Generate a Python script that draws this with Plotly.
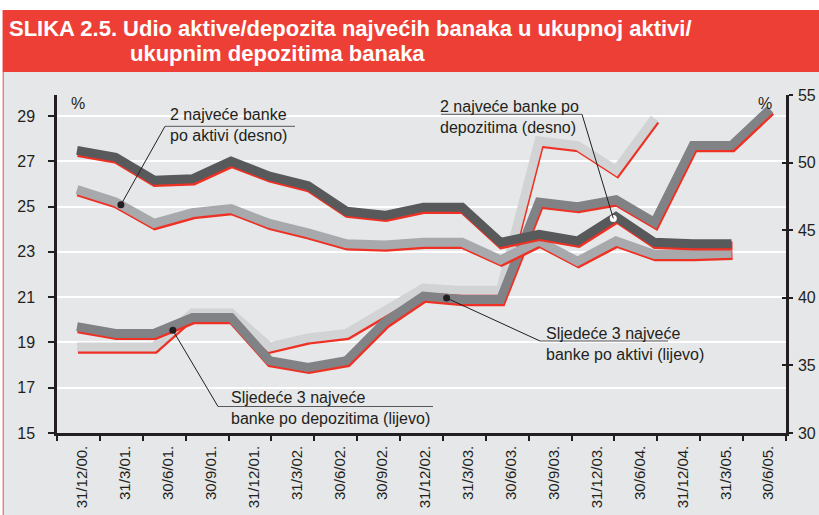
import numpy as np
import plotly.graph_objects as go

# ---------------- data ----------------
quarters = ["31/12/00", "31/3/01", "30/6/01", "30/9/01", "31/12/01", "31/3/02", "30/6/02",
            "30/9/02", "31/12/02", "31/3/03", "30/6/03", "30/9/03", "31/12/03", "31/3/04",
            "30/6/04", "30/9/04", "31/12/04", "31/3/05", "30/6/05"]
tick_labels = ["31/12/00.", "31/3/01.", "30/6/01.", "30/9/01.", "31/12/01.", "31/3/02.",
               "30/6/02.", "30/9/02.", "31/12/02.", "31/3/03.", "30/6/03.", "30/9/03.",
               "31/12/03.", "30/6/04.", "31/12/04.", "31/3/05.", "30/6/05."]

# right axis (%)
top2_assets_right = [48.0, 47.1, 45.5, 46.3, 46.6, 45.5, 44.8, 44.0, 43.9, 44.1, 44.1,
                     42.8, 44.2, 42.7, 44.2, 43.2, 43.2, 43.3]
top2_deposits_right = [50.9, 50.4, 48.7, 48.8, 50.1, 49.0, 48.3, 46.4, 46.1, 46.7, 46.7,
                       44.1, 44.7, 44.2, 46.0, 44.1, 44.0, 44.0]
# left axis (%)
next3_assets_left = [19.7, 19.4, 19.4, 20.1, 20.1, 18.2, 17.9, 18.2, 19.9, 21.05, 20.9,
                     20.9, 25.2, 25.0, 25.3, 24.3, 27.7, 27.7, 29.3]
next3_deposits_left = [18.8, 18.8, 18.8, 20.3, 20.3, 18.8, 19.2, 19.4, 20.4, 21.4, 21.3,
                       21.3, 27.9, 27.7, 26.6, 28.9]

left_ticks = [15, 17, 19, 21, 23, 25, 27, 29]
right_ticks = [30, 35, 40, 45, 50, 55]

# ---------------- layout geometry ----------------
W, H = 819, 515
L, R, T, B = 57, 33, 95, 82
PW, PH = W - L - R, H - T - B
YL = [15, 29.93]
YR = [30, 55]
X0_PX, DX_PX = 77, 38.5          # first data point position / spacing
XR = [(L - X0_PX) / DX_PX, (W - R - X0_PX) / DX_PX]

PPU_L = PH / (YL[1] - YL[0])
PPU_R = PH / (YR[1] - YR[0])


def px_x(px):
    return (px - X0_PX) / DX_PX


def px_yl(py):
    return YL[0] + (H - B - py) / PPU_L


def px_yr(py):
    return YR[0] + (H - B - py) / PPU_R


def pap_x(px):
    return (px - L) / PW


def pap_y(py):
    return (H - B - py) / PH


INK = "#231f20"
RED = "#ee3124"
BG = "#e6e7e8"
BAND_W = 9
SH_DX, SH_DY = 1.0, 2.2

fig = go.Figure()


def add_series(vals, color, yref, ppu):
    x = np.arange(len(vals), dtype=float)
    y = np.array(vals, dtype=float)
    fig.add_trace(go.Scatter(x=x + SH_DX / DX_PX, y=y - SH_DY / ppu, mode="lines",
                             line=dict(color=RED, width=BAND_W), yaxis=yref,
                             hoverinfo="skip", showlegend=False))
    fig.add_trace(go.Scatter(x=x, y=y, mode="lines",
                             line=dict(color=color, width=BAND_W), yaxis=yref,
                             hoverinfo="skip", showlegend=False))


add_series(next3_deposits_left, "#d1d3d4", "y", PPU_L)
add_series(next3_assets_left, "#808285", "y", PPU_L)
add_series(top2_assets_right, "#a7a9ac", "y2", PPU_R)
add_series(top2_deposits_right, "#58595b", "y2", PPU_R)


def dot(vals, xi, yref, color):
    yv = float(np.interp(xi, np.arange(len(vals)), vals))
    fig.add_trace(go.Scatter(x=[xi], y=[yv], mode="markers",
                             marker=dict(color=color, size=7, line=dict(width=0)),
                             yaxis=yref, hoverinfo="skip", showlegend=False))
    return yv


d1 = dot(top2_assets_right, 1.14, "y2", INK)
d2 = dot(top2_deposits_right, 13.93, "y2", "white")
d3 = dot(next3_assets_left, 9.6, "y", INK)
d4 = dot(next3_deposits_left, 2.49, "y", INK)

# invisible trace to register category labels on xaxis2
fig.add_trace(go.Scatter(x=tick_labels, y=[20] * len(tick_labels), xaxis="x2", yaxis="y",
                         mode="markers", marker=dict(opacity=0), hoverinfo="skip",
                         showlegend=False))
fig.add_trace(go.Scatter(x=[0], y=[40], xaxis="x", yaxis="y3", mode="markers",
                         marker=dict(opacity=0), hoverinfo="skip", showlegend=False))

shapes = []
# title bar + page decorations
shapes.append(dict(type="rect", xref="paper", yref="paper", x0=pap_x(0), x1=pap_x(W),
                   y0=pap_y(10), y1=pap_y(0), fillcolor="white", line=dict(width=0),
                   layer="below"))
shapes.append(dict(type="rect", xref="paper", yref="paper", x0=pap_x(0), x1=pap_x(2.6),
                   y0=pap_y(H), y1=pap_y(0), fillcolor="white", line=dict(width=0),
                   layer="below"))
shapes.append(dict(type="rect", xref="paper", yref="paper", x0=pap_x(2.6), x1=pap_x(W),
                   y0=pap_y(72), y1=pap_y(10), fillcolor="#ee3f37", line=dict(width=0),
                   layer="below"))
shapes.append(dict(type="line", xref="paper", yref="paper", x0=pap_x(3.3), x1=pap_x(3.3),
                   y0=pap_y(H), y1=pap_y(72), line=dict(color="#f07f78", width=1.4),
                   layer="below"))


def leader(x0, y0, x1, y1, yref):
    shapes.append(dict(type="line", xref="x", yref=yref, x0=x0, y0=y0, x1=x1, y1=y1,
                       line=dict(color=INK, width=1), layer="above"))


def underline(px0, px1, py):
    shapes.append(dict(type="line", xref="x", yref="y", x0=px_x(px0), x1=px_x(px1),
                       y0=px_yl(py), y1=px_yl(py), line=dict(color="#58595b", width=1),
                       layer="above"))


# label 1: 2 najveće banke po aktivi (desno)
underline(165, 295, 126.3)
leader(px_x(165), px_yr(126.3), 1.14, d1, "y2")
# label 2: 2 najveće banke po depozitima (desno)
underline(441, 582, 114.3)
leader(px_x(582), px_yr(114.3), 13.93, d2, "y2")
# label 3: Sljedeće 3 najveće banke po aktivi (lijevo)
underline(540, 668, 341)
leader(px_x(540), px_yl(341), 9.6, d3, "y")
# label 4: Sljedeće 3 najveće banke po depozitima (lijevo)
underline(218, 433, 406.5)
leader(px_x(218), px_yl(406.5), 2.49, d4, "y")

FONT = "Liberation Sans, Arial, sans-serif"
annotations = []


def label(text, px, py):
    annotations.append(dict(text=text, xref="x", yref="y", x=px_x(px), y=px_yl(py),
                            xanchor="left", yanchor="middle", align="left",
                            showarrow=False, font=dict(family=FONT, size=16, color=INK)))


label("2 najveće banke<br>po aktivi (desno)", 168, 125)
label("2 najveće banke po<br>depozitima (desno)", 438, 116.5)
label("Sljedeće 3 najveće<br>banke po aktivi (lijevo)", 544, 343.5)
label("Sljedeće 3 najveće<br>banke po depozitima (lijevo)", 229, 407.5)

for px in (78, 765):
    annotations.append(dict(text="%", xref="x", yref="y", x=px_x(px), y=px_yl(103),
                            xanchor="center", yanchor="middle", showarrow=False,
                            font=dict(family=FONT, size=16, color=INK)))

annotations.append(dict(text="<b>SLIKA 2.5. Udio aktive/depozita najvećih banaka u ukupnoj aktivi/</b>",
                        xref="paper", yref="paper", x=pap_x(7), y=pap_y(28),
                        xanchor="left", yanchor="middle", showarrow=False,
                        font=dict(family=FONT, size=22, color="white")))
annotations.append(dict(text="<b>ukupnim depozitima banaka</b>",
                        xref="paper", yref="paper", x=pap_x(128), y=pap_y(53),
                        xanchor="left", yanchor="middle", showarrow=False,
                        font=dict(family=FONT, size=22, color="white")))

fig.update_layout(
    width=W, height=H, autosize=False,
    margin=dict(l=L, r=R, t=T, b=B, pad=0, autoexpand=False),
    paper_bgcolor=BG, plot_bgcolor=BG,
    showlegend=False,
    font=dict(family=FONT, color=INK),
    xaxis=dict(range=XR, showticklabels=False, showgrid=False, zeroline=False,
               showline=False, ticks="", automargin=False),
    xaxis2=dict(overlaying="x", side="bottom", anchor="y", type="category",
                categoryorder="array", categoryarray=tick_labels,
                range=[-0.5, len(tick_labels) - 0.5], tickson="boundaries",
                ticks="outside", ticklen=5, tickwidth=1.5, tickcolor=INK,
                tickangle=-90, tickfont=dict(family=FONT, size=15, color=INK),
                ticklabelstandoff=4, ticklabelshift=4, automargin=False,
                showline=True, linecolor=INK, linewidth=2.5, showgrid=False,
                zeroline=False),
    yaxis=dict(range=YL, tickvals=left_ticks, ticks="outside", ticklen=6,
               tickwidth=1.5, tickcolor=INK, showgrid=True, gridcolor="white",
               gridwidth=2, showline=True, linecolor=INK, linewidth=2.5,
               zeroline=False, tickfont=dict(family=FONT, size=16, color=INK),
               ticklabelstandoff=10, automargin=False),
    yaxis2=dict(range=YR, overlaying="y", side="right", anchor="x", tickvals=right_ticks,
                ticks="outside", ticklen=4, tickwidth=1.5, tickcolor=INK,
                showgrid=False, showline=True, linecolor=INK, linewidth=2.5,
                zeroline=False, tickfont=dict(family=FONT, size=16, color=INK),
                ticklabelstandoff=2, automargin=False),
    yaxis3=dict(range=YR, overlaying="y", side="right", anchor="x", tickvals=right_ticks,
                ticks="inside", ticklen=4, tickwidth=1.5, tickcolor=INK,
                showticklabels=False, showgrid=False, showline=False, zeroline=False,
                automargin=False),
    shapes=shapes,
    annotations=annotations,
)

fig.write_html("out.html",
               config={"displayModeBar": False, "responsive": False},
               post_script="document.body.style.margin='0';"
                           "document.body.style.padding='0';"
                           "document.body.style.overflow='hidden';"
                           "document.documentElement.style.overflow='hidden';")
